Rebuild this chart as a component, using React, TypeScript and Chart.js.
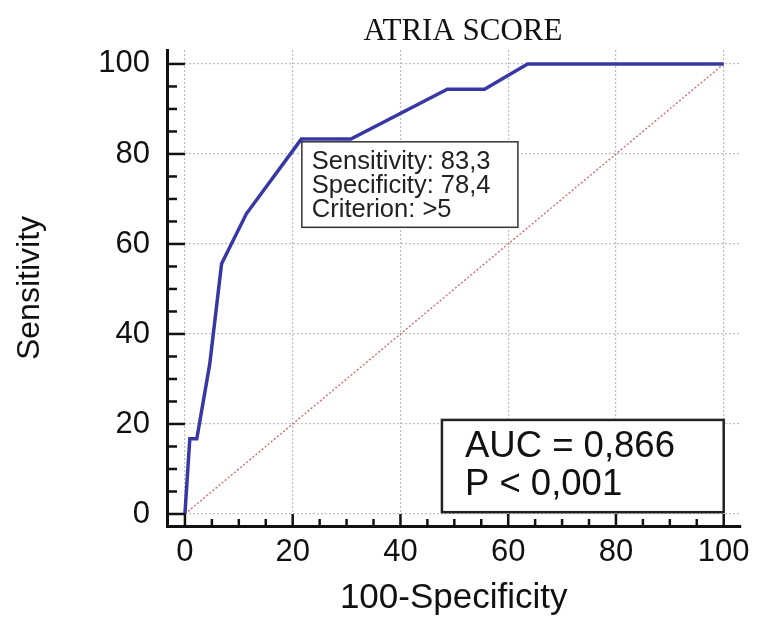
import React, { useEffect, useRef } from "react";
import { Chart, registerables } from "chart.js";

Chart.register(...registerables);

const rocX = [0, 0.9, 2.2, 4.6, 6.8, 11.4, 21.6, 30.8, 48.7, 55.6, 63.6, 100];
const rocY = [0, 16.7, 16.7, 33.3, 55.6, 66.7, 83.3, 83.3, 94.4, 94.4, 100, 100];
const refX = [0, 100];
const refY = [0, 100];
const xTicks = [0, 20, 40, 60, 80, 100];
const yTicks = [0, 20, 40, 60, 80, 100];
const minorStep = 5;
const titleText = "ATRIA SCORE";
const xTitle = "100-Specificity";
const yTitle = "Sensitivity";
const criterionLines = ["Sensitivity: 83,3", "Specificity: 78,4", "Criterion: >5"];
const aucLines = ["AUC = 0,866", "P < 0,001"];

const SANS = "'Liberation Sans', Arial, sans-serif";
const SERIF = "'Liberation Serif', 'Times New Roman', serif";

const overlay = {
  id: "overlay",
  afterDatasetsDraw(chart: any) {
    const ctx = chart.ctx;
    const xs = chart.scales.x;
    const ys = chart.scales.y;
    const area = chart.chartArea;
    ctx.save();
    ctx.setLineDash([]);

    // criterion box
    {
      const l = xs.getPixelForValue(21.7);
      const r = xs.getPixelForValue(61.8);
      const t = ys.getPixelForValue(82.7);
      const b = ys.getPixelForValue(63.7);
      ctx.fillStyle = "#fff";
      ctx.fillRect(l, t, r - l, b - t);
      ctx.strokeStyle = "#333";
      ctx.lineWidth = 1.5;
      ctx.strokeRect(l, t, r - l, b - t);
      ctx.fillStyle = "#222";
      ctx.font = `25.5px ${SANS}`;
      ctx.textAlign = "left";
      ctx.textBaseline = "alphabetic";
      criterionLines.forEach((s, i) => ctx.fillText(s, l + 10, t + 27.5 + i * 23.7));
    }
    // AUC box
    {
      const l = xs.getPixelForValue(47.7);
      const r = xs.getPixelForValue(100);
      const t = ys.getPixelForValue(20.9);
      const b = ys.getPixelForValue(0.4);
      ctx.fillStyle = "#fff";
      ctx.fillRect(l, t, r - l, b - t);
      ctx.strokeStyle = "#222";
      ctx.lineWidth = 2.5;
      ctx.strokeRect(l, t, r - l, b - t);
      ctx.fillStyle = "#111";
      ctx.font = `36.5px ${SANS}`;
      ctx.textAlign = "left";
      ctx.textBaseline = "alphabetic";
      aucLines.forEach((s, i) => ctx.fillText(s, l + 23, t + 37 + i * 38));
    }

    // tick marks (major and minor), pointing inward
    ctx.strokeStyle = "#111";
    ctx.lineWidth = 2.5;
    const x0 = xs.getPixelForValue(0);
    const y0 = ys.getPixelForValue(0);
    for (let v = 0; v <= 100; v += minorStep) {
      const major = v % 20 === 0;
      const px = xs.getPixelForValue(v);
      ctx.beginPath();
      ctx.moveTo(px, area.bottom);
      ctx.lineTo(px, major ? y0 : area.bottom - 7);
      ctx.stroke();
      const py = ys.getPixelForValue(v);
      ctx.beginPath();
      ctx.moveTo(area.left, py);
      ctx.lineTo(major ? x0 : area.left + 10, py);
      ctx.stroke();
    }

    // title
    ctx.fillStyle = "#111";
    ctx.font = `31px ${SERIF}`;
    ctx.textAlign = "center";
    ctx.textBaseline = "alphabetic";
    ctx.fillText(titleText, 463, 40);
    ctx.restore();
  },
};

export default function App() {
  const ref = useRef<HTMLCanvasElement | null>(null);
  useEffect(() => {
    document.body.style.margin = "0";
    const canvas = ref.current;
    if (!canvas) return;
    const chart = new Chart(canvas, {
      type: "line",
      data: {
        datasets: [
          {
            label: "ROC",
            data: rocX.map((x, i) => ({ x, y: rocY[i] })),
            borderColor: "#3838a4",
            borderWidth: 3.5,
            pointRadius: 0,
            tension: 0,
            fill: false,
            order: 1,
          },
          {
            label: "Reference",
            data: refX.map((x, i) => ({ x, y: refY[i] })),
            borderColor: "#c87070",
            borderWidth: 1.4,
            borderDash: [2, 2],
            pointRadius: 0,
            tension: 0,
            fill: false,
            order: 2,
          },
        ],
      },
      options: {
        responsive: false,
        animation: false,
        events: [],
        layout: { padding: { top: 50, right: 15, left: 0, bottom: 0 } },
        plugins: { legend: { display: false }, tooltip: { enabled: false }, title: { display: false } },
        scales: {
          x: {
            type: "linear",
            min: -3.33,
            max: 103.1,
            afterBuildTicks: (s: any) => {
              s.ticks = xTicks.map((v) => ({ value: v }));
            },
            afterFit: (s: any) => {
              s.height = 95;
            },
            ticks: { font: { family: SANS, size: 31 }, color: "#111", padding: 8, maxRotation: 0, autoSkip: false },
            grid: { color: "#bdbdbd", lineWidth: 1.2, drawTicks: false },
            border: { display: true, color: "#111", width: 3, dash: [2, 2] },
            title: { display: true, text: xTitle, font: { family: SANS, size: 35 }, color: "#111", padding: { top: 0, bottom: 2 } },
          },
          y: {
            type: "linear",
            min: -2.67,
            max: 103.1,
            afterBuildTicks: (s: any) => {
              s.ticks = yTicks.map((v) => ({ value: v }));
            },
            afterFit: (s: any) => {
              s.width = 167;
            },
            ticks: { font: { family: SANS, size: 31 }, color: "#111", padding: 17, autoSkip: false },
            grid: { color: "#bdbdbd", lineWidth: 1.2, drawTicks: false },
            border: { display: true, color: "#111", width: 3, dash: [2, 2] },
            title: { display: true, text: yTitle, font: { family: SANS, size: 32 }, color: "#111", padding: { top: 11, bottom: 0 } },
          },
        },
      } as any,
      plugins: [overlay],
    });
    return () => chart.destroy();
  }, []);
  return (
    <div style={{ width: 758, height: 621 }}>
      <canvas ref={ref} width={758} height={621} style={{ display: "block" }} />
    </div>
  );
}
